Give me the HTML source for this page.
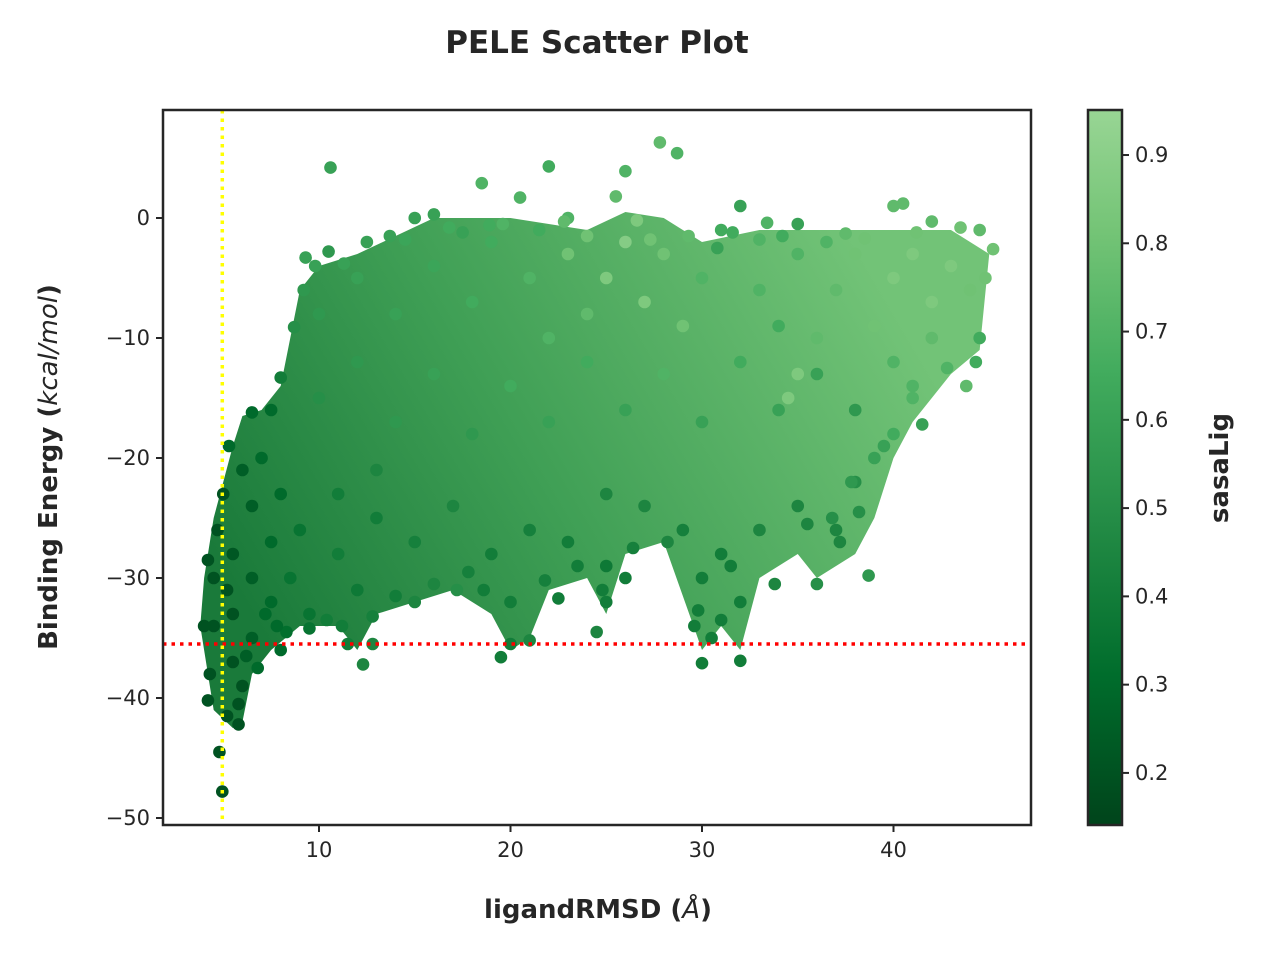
<!DOCTYPE html>
<html><head><meta charset="utf-8"><style>
body{margin:0;background:#fff;}
svg text{font-family:"DejaVu Sans","Liberation Sans",sans-serif;fill:#262626;}
</style></head><body>
<svg id="chart" width="1280" height="960" xmlns="http://www.w3.org/2000/svg">
<defs>
<linearGradient id="cbgrad" x1="0" y1="1" x2="0" y2="0">
<stop offset="0" stop-color="#00441b"/><stop offset="0.21" stop-color="#006d2c"/><stop offset="0.42" stop-color="#238b45"/><stop offset="0.63" stop-color="#41ab5d"/><stop offset="0.83" stop-color="#74c476"/><stop offset="1" stop-color="#98d594"/>
</linearGradient>
<clipPath id="plotclip"><rect x="163" y="110" width="868" height="715"/></clipPath>
</defs>
<text x="597" y="53" text-anchor="middle" font-size="31" font-weight="bold">PELE Scatter Plot</text>
<g id="plot" clip-path="url(#plotclip)"></g>
<g id="axes"></g>
</svg>
<script>
const ptX=[10.6,27.8,28.7,26,22,18.5,4.95,5.8,5.2,4.2,12.3,11.5,12.8,19.5,20,21,30,32,30.5,24.5,15,17.2,22.5,25,38.7,36,32,31,29.8,5.3,6.5,40,40.5,42,44.5,45.2,44.5,44.3,41.5,39.5,33.4,32,35,16,15,9.3,8.7,8,7.5,20.5,23,25.5,
4.5,4.5,4.3,4.7,5.5,5.5,5.5,6,6.5,6.5,6.5,7,7.5,7.5,8,8.5,9,9.5,8,5,6,4,
11,13,12,15,17,19,21,23,25,25,27,29,31,33,35,37,38,26,30,20,13,11,
10,12,14,16,18,20,22,24,26,28,30,32,34,36,38,40,42,41,
10,12,14,16,18,19,21,23,25,26,27,28,29,30,31,33,35,37,38,39,40,41,42,43,44,36,34,24,22,34.5,35,
9.2,9.8,10.5,11.3,12.5,13.7,14.5,16.8,17.5,18.9,19.6,21.5,22.8,24,26.6,27.3,29.3,30.8,31.6,33,34.2,36.5,37.5,38.5,41.2,43.5,44.8,
43.8,42.8,41,40,39,37.8,36.8,
7.2,6.8,8.3,9.5,10.4,11.2,12.8,14,16,17.8,18.6,21.8,23.5,24.8,26.4,28.2,29.6,31.5,33.8,35.5,37.2,38.2,
4.8,5.8,6.2,7.8,4.2,5.2];
const ptY=[4.2,6.3,5.4,3.9,4.3,2.9,-47.8,-42.2,-41.5,-40.2,-37.2,-35.5,-35.5,-36.6,-35.5,-35.2,-37.1,-36.9,-35,-34.5,-32,-31,-31.7,-32,-29.8,-30.5,-32,-33.5,-32.7,-19,-16.2,1,1.2,-0.3,-1,-2.6,-10,-12,-17.2,-19,-0.4,1,-0.5,0.3,0,-3.3,-9.1,-13.3,-16,1.7,0,1.8,
-30,-34,-38,-26,-28,-33,-37,-39,-24,-30,-35,-20,-27,-32,-23,-30,-26,-33,-36,-23,-21,-34,
-28,-25,-31,-27,-24,-28,-26,-27,-29,-23,-24,-26,-28,-26,-24,-26,-22,-30,-30,-32,-21,-23,
-15,-12,-17,-13,-18,-14,-17,-12,-16,-13,-17,-12,-16,-13,-16,-12,-10,-14,
-8,-5,-8,-4,-7,-2,-5,-3,-5,-2,-7,-3,-9,-5,-1,-6,-3,-6,-3,-9,-5,-3,-7,-4,-6,-10,-9,-8,-10,-15,-13,
-6,-4,-2.8,-3.8,-2,-1.5,-1.8,-0.8,-1.2,-0.6,-0.5,-1,-0.3,-1.5,-0.2,-1.8,-1.5,-2.5,-1.2,-1.8,-1.5,-2,-1.3,-1.7,-1.2,-0.8,-5,
-14,-12.5,-15,-18,-20,-22,-25,
-33,-37.5,-34.5,-34.2,-33.5,-34,-33.2,-31.5,-30.5,-29.5,-31,-30.2,-29,-31,-27.5,-27,-34,-29,-30.5,-25.5,-27,-24.5,
-44.5,-40.5,-36.5,-34,-28.5,-31];
const ptSasa=[0.6,0.75,0.7,0.7,0.65,0.7,0.2,0.2,0.2,0.2,0.45,0.4,0.45,0.4,0.4,0.45,0.4,0.4,0.4,0.45,0.45,0.5,0.4,0.4,0.55,0.5,0.4,0.4,0.4,0.3,0.3,0.75,0.75,0.75,0.75,0.8,0.65,0.65,0.6,0.6,0.7,0.6,0.6,0.6,0.6,0.6,0.5,0.4,0.3,0.7,0.7,0.75,
0.2,0.2,0.2,0.2,0.22,0.2,0.2,0.2,0.25,0.25,0.25,0.3,0.3,0.3,0.3,0.35,0.35,0.35,0.3,0.2,0.25,0.2,
0.4,0.4,0.38,0.42,0.45,0.4,0.42,0.4,0.38,0.45,0.45,0.42,0.4,0.45,0.45,0.45,0.5,0.4,0.4,0.4,0.45,0.4,
0.5,0.55,0.55,0.6,0.55,0.65,0.6,0.65,0.6,0.7,0.6,0.65,0.6,0.6,0.55,0.7,0.75,0.7,
0.55,0.6,0.6,0.62,0.65,0.65,0.7,0.8,0.85,0.88,0.85,0.8,0.8,0.7,0.65,0.7,0.7,0.75,0.8,0.8,0.85,0.85,0.85,0.85,0.8,0.75,0.65,0.75,0.7,0.85,0.85,
0.55,0.6,0.55,0.6,0.6,0.6,0.62,0.65,0.6,0.65,0.7,0.65,0.75,0.8,0.85,0.8,0.75,0.6,0.65,0.7,0.65,0.7,0.75,0.8,0.8,0.8,0.8,
0.75,0.7,0.7,0.65,0.6,0.55,0.5,
0.3,0.3,0.32,0.35,0.4,0.4,0.42,0.4,0.45,0.42,0.4,0.42,0.4,0.4,0.42,0.45,0.4,0.4,0.45,0.45,0.45,0.5,
0.2,0.2,0.25,0.3,0.2,0.2];
const envX=[3.8,4.5,5.5,6,6.5,7.5,9,11,12,13,15,17,19,20,21,22,24,25,26,28,30,31,32,33,35,36,38,39,40,41,43,44.5,45,43,40,37,35,33,30,28,26,24,22,20,18,16,14,12,10,9,8.5,8,7,6,5.5,5,4.5,4];
const envY=[-34,-41,-42.5,-42,-38,-36,-34,-34,-36,-33,-32,-31,-33,-36,-35,-31,-30,-33,-28,-27,-36,-34,-36,-30,-28,-30,-28,-25,-20,-17,-13,-11,-3,-1,-1,-1,-1,-1,-2,0,0.5,-1,-0.5,0,0,0,-1.5,-3,-4,-6,-10,-14,-16,-16.5,-19,-22,-25,-30];
const xTicks=[10,20,30,40];
const yTicks=[0,-10,-20,-30,-40,-50];
const cbTicks=[0.2,0.3,0.4,0.5,0.6,0.7,0.8,0.9];
const hLineY=-35.5, vLineX=4.95;

const L=163,R=1031,T=110,B=825;
const xs=v=>127.5+v*19.15;
const ys=v=>218-v*12;
const cbMin=0.141,cbMax=0.951;
const cs=v=>825-(v-cbMin)/(cbMax-cbMin)*715;
const stops=[[0,[0,68,27]],[0.21,[0,109,44]],[0.42,[35,139,69]],[0.63,[65,171,93]],[0.83,[116,196,118]],[1,[152,213,148]]];
function col(v){let t=Math.max(0,Math.min(1,(v-cbMin)/(cbMax-cbMin)));for(let i=1;i<stops.length;i++){if(t<=stops[i][0]){const a=stops[i-1],b=stops[i];const f=(t-a[0])/(b[0]-a[0]);const c=a[1].map((x,k)=>Math.round(x+(b[1][k]-x)*f));return `rgb(${c})`;}}return 'rgb(152,213,148)';}
const NS='http://www.w3.org/2000/svg';
function mk(tag,attrs,parent){const e=document.createElementNS(NS,tag);for(const k in attrs)e.setAttribute(k,attrs[k]);parent.appendChild(e);return e;}
const svg=document.getElementById('chart');
const plot=document.getElementById('plot'),axes=document.getElementById('axes');
const defs=svg.querySelector('defs');
const g=mk('linearGradient',{id:'cloudgrad',gradientUnits:'userSpaceOnUse',x1:xs(6),y1:ys(-32),x2:xs(38),y2:ys(-2)},defs);
mk('stop',{offset:0,'stop-color':'#1a7a3a'},g);mk('stop',{offset:0.45,'stop-color':'#3f9f55'},g);mk('stop',{offset:1,'stop-color':'#72c377'},g);
const env=mk('polygon',{points:envX.map((x,i)=>xs(x)+','+ys(envY[i])).join(' '),fill:'url(#cloudgrad)'},plot);


ptX.forEach((x,i)=>{const c=mk('circle',{cx:xs(x),cy:ys(ptY[i]),r:6.3,fill:col(ptSasa[i])},plot);

});
const hl=mk('line',{x1:L,x2:R,y1:ys(hLineY),y2:ys(hLineY),stroke:'#ff0000','stroke-width':3.5,'stroke-dasharray':'3.5 5'},plot);


const vl=mk('line',{x1:xs(vLineX),x2:xs(vLineX),y1:T,y2:B,stroke:'#ffff00','stroke-width':3.5,'stroke-dasharray':'3.5 5'},plot);


const frame=mk('rect',{x:L,y:T,width:R-L,height:B-T,fill:'none',stroke:'#262626','stroke-width':2.5},axes);


xTicks.forEach(v=>{mk('line',{x1:xs(v),x2:xs(v),y1:B,y2:B+7,stroke:'#262626','stroke-width':2},axes);
const t=mk('text',{x:xs(v),y:B+32,'text-anchor':'middle','font-size':21},axes);t.textContent=v;

});
yTicks.forEach(v=>{mk('line',{x1:L-7,x2:L,y1:ys(v),y2:ys(v),stroke:'#262626','stroke-width':2},axes);
const t=mk('text',{x:L-13,y:ys(v)+7,'text-anchor':'end','font-size':21},axes);t.textContent=v<0?'\u2212'+(-v):v;

});
const cb=mk('rect',{x:1088,y:110,width:34,height:715,fill:'url(#cbgrad)',stroke:'#262626','stroke-width':2.5},axes);


cbTicks.forEach(v=>{mk('line',{x1:1122,x2:1129,y1:cs(v),y2:cs(v),stroke:'#262626','stroke-width':2},axes);
const t=mk('text',{x:1135,y:cs(v)+7,'font-size':21},axes);t.textContent=v.toFixed(1);

});
</script>
<svg style="position:absolute;left:0;top:0" width="1280" height="960" xmlns="http://www.w3.org/2000/svg">
<text x="598" y="918" text-anchor="middle" font-size="26" font-weight="bold" style="font-family:'DejaVu Sans',sans-serif;fill:#262626">ligandRMSD (<tspan font-style="italic" font-weight="normal">Å</tspan>)</text>
<text transform="translate(57,467) rotate(-90)" text-anchor="middle" font-size="26" font-weight="bold" style="font-family:'DejaVu Sans',sans-serif;fill:#262626">Binding Energy (<tspan font-style="italic" font-weight="normal">kcal/mol</tspan>)</text>
<text transform="translate(1228,468) rotate(-90)" text-anchor="middle" font-size="26" font-weight="bold" style="font-family:'DejaVu Sans',sans-serif;fill:#262626">sasaLig</text>
</svg>
</body></html>
